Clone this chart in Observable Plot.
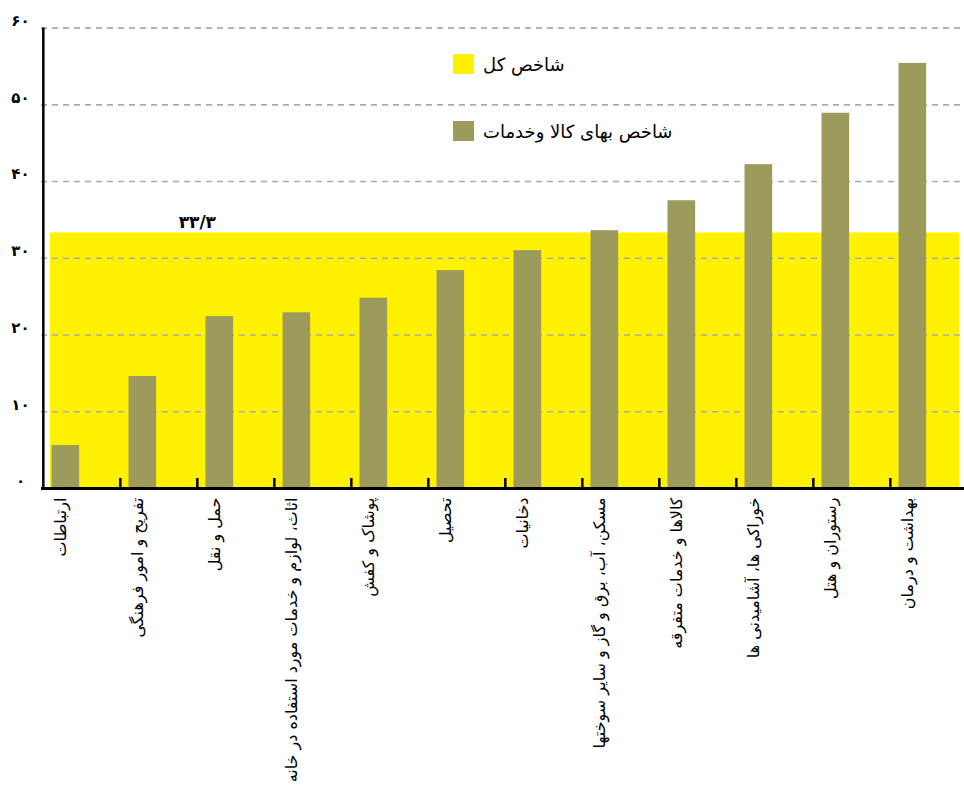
<!DOCTYPE html>
<html>
<head>
<meta charset="utf-8">
<script src="https://cdn.jsdelivr.net/npm/d3@7"></script>
<script src="https://cdn.jsdelivr.net/npm/@observablehq/plot@0.6"></script>
<style>
  html, body { margin: 0; padding: 0; background: #fff; overflow: hidden; }
  #wrap { position: relative; width: 964px; height: 804px; font-family: "DejaVu Sans", sans-serif; }
  #legend { position: absolute; left: 453px; top: 54px; }
  .item { display: flex; align-items: center; height: 20px; margin-bottom: 47px; }
  .sw { width: 21px; height: 20px; margin-right: 9px; }
  .lab { font-size: 18px; color: #000; direction: rtl; }
</style>
</head>
<body>
<div id="wrap"><div id="legend"></div></div>
<script>
const categories = [
  "ارتباطات",
  "تفریح و امور فرهنگی",
  "حمل و نقل",
  "اثاث، لوازم و خدمات مورد استفاده در خانه",
  "پوشاک و کفش",
  "تحصیل",
  "دخانیات",
  "مسکن، آب، برق و گاز و سایر سوختها",
  "کالاها و خدمات متفرقه",
  "خوراکی ها، آشامیدنی ها",
  "رستوران و هتل",
  "بهداشت و درمان"
];
const values = [5.6, 14.6, 22.4, 22.9, 24.8, 28.4, 31.0, 33.6, 37.5, 42.2, 48.9, 55.4];
const totalIndex = 33.3;
const yTicks = [0, 10, 20, 30, 40, 50, 60];
const seriesNames = ["شاخص کل", "شاخص بهای کالا وخدمات"];
const seriesColors = ["#FFF200", "#9C9B5B"];

const fa = (v) => String(v).replace(/\d/g, (d) => "۰۱۲۳۴۵۶۷۸۹"[d]).replace(".", "/");

const data = categories.map((c, i) => ({category: c, value: values[i], total: totalIndex}));

const W = 964, H = 804;
const mL = 41, mR = -5.2, mT = 27.6, mB = 316;
const bw = (W - mR - mL) / categories.length;
const plotH = H - mT - mB;
const barW = 28, barOff = 8.5, tickLen = 10;
const font = "DejaVu Sans, sans-serif";

const chart = Plot.plot({
  width: W,
  height: H,
  marginLeft: mL,
  marginRight: mR,
  marginTop: mT,
  marginBottom: mB,
  style: {fontFamily: font, background: "transparent", overflow: "visible"},
  x: {type: "band", domain: categories, paddingInner: 0, paddingOuter: 0, axis: null, label: null},
  y: {domain: [0, 60], axis: null, label: null},
  marks: [
    // total index band (yellow)
    Plot.barY(data.slice(0, 1), {x: "category", y: "total", fill: seriesColors[0], insetLeft: 7, insetRight: 0}),
    Plot.barY(data.slice(1, -1), {x: "category", y: "total", fill: seriesColors[0], inset: 0}),
    Plot.barY(data.slice(-1), {x: "category", y: "total", fill: seriesColors[0], insetLeft: 0, insetRight: 8}),
    Plot.gridY(yTicks.filter((d) => d > 0), {stroke: "#ababab", strokeOpacity: 1, strokeWidth: 1.6, strokeDasharray: "6,5"}),
    Plot.barY(data, {x: "category", y: "value", fill: seriesColors[1], insetLeft: barOff, insetRight: bw - barOff - barW}),
    // axes lines
    Plot.ruleY([0], {stroke: "#000", strokeWidth: 3}),
    Plot.ruleX(categories.slice(0, 1), {x: (d) => d, dx: -bw / 2, stroke: "#000", strokeWidth: 2.5}),
    // category ticks at band boundaries (inward)
    Plot.ruleX(categories.slice(1), {x: (d) => d, dx: -bw / 2, insetTop: plotH - tickLen, stroke: "#000", strokeWidth: 2.5}),
    // y tick labels
    Plot.text(yTicks, {y: (d) => d, text: (d) => fa(d), frameAnchor: "left", dx: -21, dy: -7, textAnchor: "middle", fontSize: 15, fontWeight: "bold", fill: "#000"}),
    // category labels
    Plot.text(categories, {x: (d) => d, text: (d) => d, frameAnchor: "bottom", rotate: -90, textAnchor: "end", dx: -(bw / 2 - barOff - barW / 2), dy: 9, fontSize: 16, fill: "#000"}),
    // total index label
    Plot.text([data[2]], {x: "category", y: "total", text: (d) => fa(d.total), dx: -bw / 2, dy: -5, lineAnchor: "bottom", fontSize: 17, fontWeight: "bold", fill: "#000"})
  ]
});

document.getElementById("wrap").prepend(chart);

const legend = document.getElementById("legend");
seriesNames.forEach((name, i) => {
  const item = document.createElement("div");
  item.className = "item";
  item.innerHTML = `<div class="sw" style="background:${seriesColors[i]}"></div><div class="lab">${name}</div>`;
  legend.appendChild(item);
});
</script>
</body>
</html>
